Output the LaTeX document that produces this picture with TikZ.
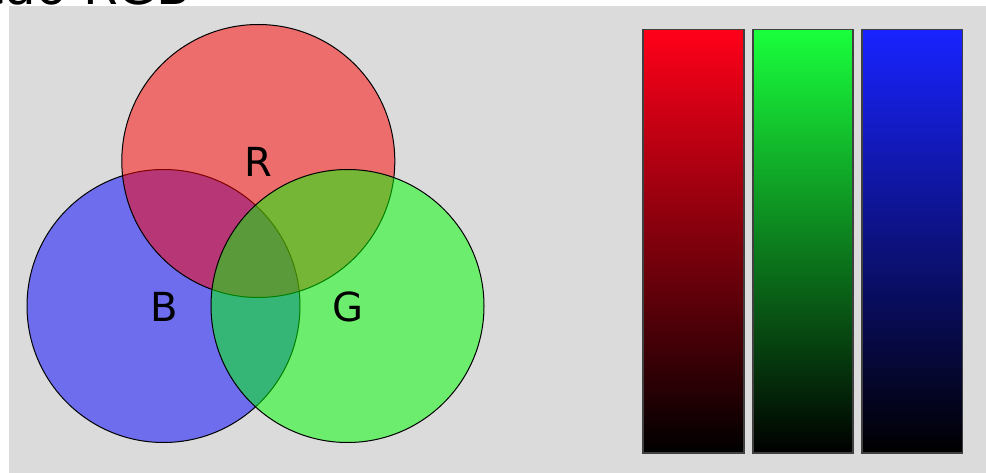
\documentclass[tikz,border=0pt]{standalone}
\usepackage{fontspec}
\setmainfont{DejaVu Sans}
\begin{document}
\begin{tikzpicture}[x=1pt,y=-1pt,
  venn/.style={draw=black,line width=1pt,fill opacity=0.5},
  lbl/.style={inner sep=0pt,anchor=base,font=\fontsize{40}{40}\selectfont},
  bar/.style={draw=black!75,line width=1.2pt}]
\useasboundingbox (0,0) rectangle (986,473);
\fill[black!14] (9,6) rectangle (990,480);
\node[inner sep=0pt,anchor=base east,font=\fontsize{50}{50}\selectfont] (title) at (191,5) {Composição RGB};
% circles
\draw[venn,fill={rgb,255:red,0;green,0;blue,255}] (163.5,306) circle (136.5);
\draw[venn,fill={rgb,255:red,255;green,0;blue,0}] (258.3,161) circle (136.5);
\draw[venn,fill={rgb,255:red,0;green,255;blue,0}] (347.5,306) circle (136.5);
\node[lbl] (R) at (258.5,177) {R};
\node[lbl] (B) at (164,322) {B};
\node[lbl] (G) at (347.5,322) {G};
% bars
\definecolor{topR}{RGB}{255,0,25}
\definecolor{topG}{RGB}{25,255,60}
\definecolor{topB}{RGB}{25,35,255}
\shade[top color=topR,bottom color=black] (643,29.5) rectangle (744,453);
\draw[bar] (643,29.5) rectangle (744,453);
\shade[top color=topG,bottom color=black] (753,29.5) rectangle (853,453);
\draw[bar] (753,29.5) rectangle (853,453);
\shade[top color=topB,bottom color=black] (862,29.5) rectangle (962.5,453);
\draw[bar] (862,29.5) rectangle (962.5,453);
\end{tikzpicture}
\end{document}
